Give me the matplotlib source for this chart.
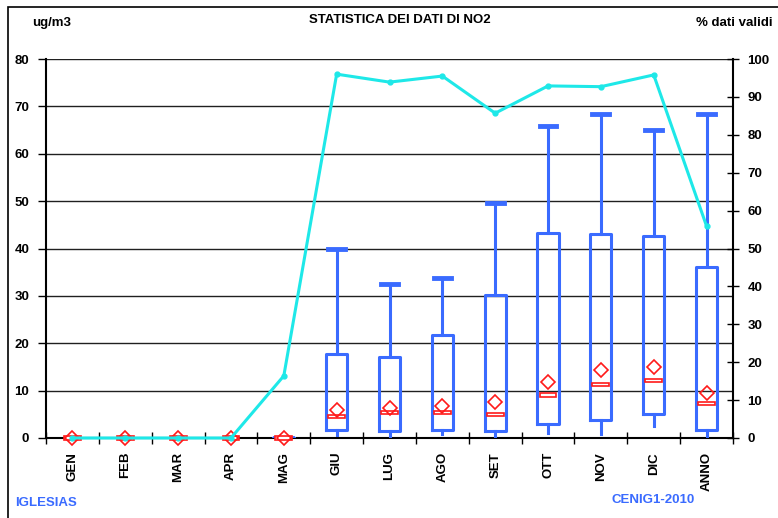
import matplotlib
matplotlib.use("Agg")
import matplotlib.pyplot as plt
import numpy as np
from matplotlib.patches import Rectangle

plt.rcParams['font.family'] = ['Liberation Sans', 'DejaVu Sans']
plt.rcParams['font.weight'] = 'bold'

# data
months = ['GEN', 'FEB', 'MAR', 'APR', 'MAG', 'GIU', 'LUG', 'AGO', 'SET', 'OTT', 'NOV', 'DIC', 'ANNO']
whis_lo = [0, 0, 0, 0, 0, 0.6, 0.0, 0.8, 0.1, 1.1, 0.8, 2.5, 0.0]
q1 = [0, 0, 0, 0, 0, 1.7, 1.5, 1.7, 1.5, 3.0, 3.8, 5.1, 1.7]
median = [0, 0, 0, 0, 0, 4.5, 5.4, 5.4, 4.9, 9.1, 11.3, 12.1, 7.3]
q3 = [0, 0, 0, 0, 0, 17.7, 17.2, 21.7, 30.2, 43.2, 43.0, 42.6, 36.2]
whis_hi = [0, 0, 0, 0, 0, 40.0, 32.6, 33.7, 49.7, 65.9, 68.3, 65.0, 68.3]
mean = [0, 0, 0, 0, 0, 5.9, 6.3, 6.8, 7.5, 11.9, 14.4, 14.9, 9.6]
valid_pct = [0, 0, 0, 0, 16.4, 96.0, 93.9, 95.5, 85.7, 92.9, 92.7, 95.8, 55.9]
has_box = [False, False, False, False, True, True, True, True, True, True, True, True, True]

blue = '#3a6bff'
red = '#ff1a1a'
cyan = '#1ee8e8'

fig = plt.figure(figsize=(7.78, 5.18), dpi=100)
ax = fig.add_axes([46/778, 1-438/518, (733-46)/778, (438-59)/518])
x = np.arange(len(months))

stats = []
pos = []
for i in range(len(months)):
    if has_box[i]:
        stats.append(dict(whislo=whis_lo[i], q1=q1[i], med=median[i], q3=q3[i],
                          whishi=whis_hi[i], fliers=[]))
        pos.append(x[i])
bp = ax.bxp(stats, positions=pos, widths=0.4, capwidths=0.32, showfliers=False,
            boxprops=dict(color=blue, linewidth=2.2),
            whiskerprops=dict(color=blue, linewidth=2.2),
            capprops=dict(color=blue, linewidth=3.5),
            medianprops=dict(linewidth=0), zorder=3)
# only the upper cap is drawn in the original
for c in bp['caps'][0::2]:
    c.set_visible(False)

# median markers as thin red rectangles
ax.bar(x, 0.7, bottom=np.array(median) - 0.35, width=0.32, facecolor='white',
       edgecolor=red, linewidth=1.2, zorder=4, clip_on=False)
ax.plot(x, mean, linestyle='none', marker='D', markersize=7.5, markerfacecolor='none',
        markeredgecolor=red, markeredgewidth=1.2, zorder=5, clip_on=False)

ax.set_xlim(-0.5, len(months) - 0.5)
ax.set_ylim(0, 80)
ax.set_yticks(np.arange(0, 81, 10))
for v in range(10, 81, 10):
    ax.axhline(v, color='#202020', linewidth=1.0, zorder=1)
ax.set_xticks(x)
ax.set_xticklabels(months, rotation=90, fontsize=9.5, fontweight='bold')
ax.set_xticks(np.arange(-0.5, len(months)), minor=True)
ax.tick_params(axis='x', which='major', length=0, pad=10)
ax.tick_params(axis='x', which='minor', length=8, direction='inout', width=1)
ax.tick_params(axis='y', length=6, direction='out', width=1, labelsize=9.5, pad=6)
for lab in ax.get_yticklabels():
    lab.set_fontweight('bold')
ax.spines['top'].set_visible(False)
ax.spines['right'].set_visible(False)
for s in ['left', 'bottom']:
    ax.spines[s].set_linewidth(1.5)

ax2 = ax.twinx()
ax2.plot(x, valid_pct, color=cyan, linewidth=2.2, marker='o', markersize=3.5, zorder=6,
         clip_on=False)
ax2.set_ylim(0, 100)
ax2.set_yticks(np.arange(0, 101, 10))
ax2.tick_params(axis='y', length=9, direction='inout', width=1, labelsize=9.5, pad=6)
for lab in ax2.get_yticklabels():
    lab.set_fontweight('bold')
for s in ['top', 'left', 'bottom']:
    ax2.spines[s].set_visible(False)
ax2.spines['right'].set_linewidth(1.5)

fig.text(400/778, 1-20/518, 'STATISTICA DEI DATI DI NO2', ha='center', va='center', fontsize=9.5)
fig.text(32/778, 1-23/518, 'ug/m3', ha='left', va='center', fontsize=9.5)
fig.text(773/778, 1-23/518, '% dati validi', ha='right', va='center', fontsize=9.5)
fig.text(15/778, 1-503/518, 'IGLESIAS', ha='left', va='center', fontsize=9.5, color=blue)
fig.text(612/778, 1-500/518, 'CENIG1-2010', ha='left', va='center', fontsize=9.5, color=blue)

fig.patches.append(Rectangle((8/778, -0.05), 1.0, 1 - 7/518 + 0.05, transform=fig.transFigure,
                             fill=False, edgecolor='black', linewidth=1.2))

fig.savefig('out.png', dpi=100)
